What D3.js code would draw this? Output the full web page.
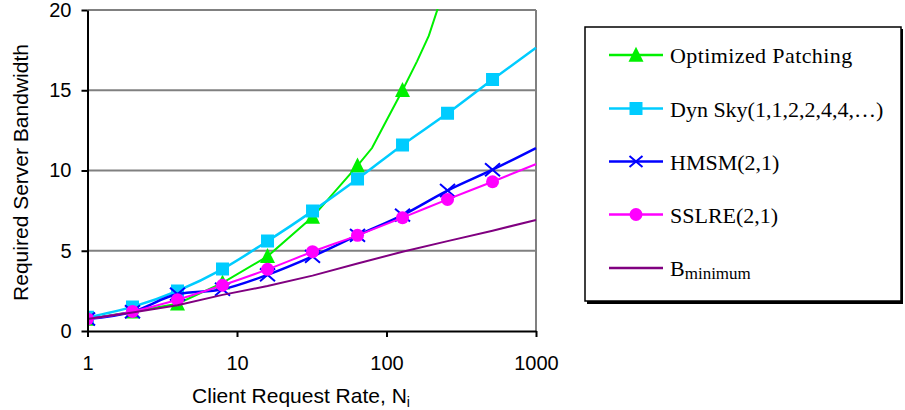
<!DOCTYPE html>
<meta charset="utf-8">
<head>
    <script src="https://d3js.org/d3.v7.min.js"></script>
    <style>
        body { margin: 0; background: #fff; }
        .tick text { font-family: "Liberation Sans", Arial, sans-serif; font-size: 20px; fill: #000; }
    </style>
</head>
<body>
<div id="my_dataviz"></div>
</body>

<script>

    // client request rates (x) and tick values
    var xTicks = [1, 10, 100, 1000];
    var yTicks = [0, 5, 10, 15, 20];

    // optimized patching is sampled more finely, markers only at powers of two
    var patchN = [1, 2, 4, 8, 16, 32, 64, 80, 96, 128, 160, 192, 224, 256];
    var patchVals = [0.75, 1.2, 1.7, 3.0, 4.65, 7.1, 10.3, 11.4, 12.8, 15.0, 16.8, 18.4, 20.3, 22.0];
    var patchMarkerN = [1, 2, 4, 8, 16, 32, 64, 128];

    // the other schemes
    var lineN = [1, 2, 4, 8, 16, 32, 64, 128, 256, 512, 1000];
    var markerN = [1, 2, 4, 8, 16, 32, 64, 128, 256, 512];
    var dynSky = [0.85, 1.5, 2.5, 3.86, 5.6, 7.47, 9.47, 11.59, 13.56, 15.67, 17.65];
    var hmsm = [0.75, 1.2, 2.3, 2.6, 3.5, 4.65, 5.96, 7.22, 8.75, 10.05, 11.4];
    var sslre = [0.75, 1.22, 1.95, 2.85, 3.84, 4.94, 5.96, 7.06, 8.2, 9.3, 10.4];
    var bmin = [0.75, 1.15, 1.6, 2.25, 2.8, 3.45, 4.2, 4.94, 5.6, 6.25, 6.92];

    var seriesNames = ["Optimized Patching", "Dyn Sky(1,1,2,2,4,4,\u2026)", "HMSM(2,1)", "SSLRE(2,1)", "Bminimum"];

    var series = [
        {name: seriesNames[0], xs: patchN, ys: patchVals, marks: patchMarkerN, color: "#00f000", shape: "triangle", width: 2, curve: d3.curveLinear},
        {name: seriesNames[1], xs: lineN, ys: dynSky, marks: markerN, color: "#00ccff", shape: "square", width: 2.5, curve: d3.curveMonotoneX},
        {name: seriesNames[2], xs: lineN, ys: hmsm, marks: markerN, color: "#0000ff", shape: "cross", width: 2.5, curve: d3.curveMonotoneX},
        {name: seriesNames[3], xs: lineN, ys: sslre, marks: markerN, color: "#ff00ff", shape: "circle", width: 2, curve: d3.curveMonotoneX},
        {name: seriesNames[4], xs: lineN, ys: bmin, marks: [], color: "#800080", shape: "none", width: 2, curve: d3.curveLinear}
    ];

    var W = 905, H = 410;
    var plotL = 87.5, plotR = 536, plotT = 10, plotB = 331;

    var svg = d3.select("#my_dataviz")
        .append("svg")
        .attr("width", W)
        .attr("height", H);

    var x = d3.scaleLog().domain([1, 1000]).range([plotL, plotR]);
    var y = d3.scaleLinear().domain([0, 20]).range([plotB, plotT]);

    // gridlines + plot border (gray)
    svg.append("g")
        .selectAll("line")
        .data(yTicks.slice(1))
        .enter().append("line")
        .attr("x1", plotL).attr("x2", plotR)
        .attr("y1", function(d) { return y(d); })
        .attr("y2", function(d) { return y(d); })
        .attr("stroke", "#808080")
        .attr("stroke-width", 2);
    svg.append("line")
        .attr("x1", plotR).attr("x2", plotR)
        .attr("y1", plotT).attr("y2", plotB)
        .attr("stroke", "#808080")
        .attr("stroke-width", 2);

    svg.append("clipPath").attr("id", "plotclip")
        .append("rect")
        .attr("x", plotL).attr("y", plotT - 1)
        .attr("width", plotR - plotL + 2).attr("height", plotB - plotT + 2);

    function markerPath(shape, s) {
        if (shape == "triangle") return "M0," + (-s * 0.55) + "L" + (s * 0.5) + "," + (s * 0.45) + "L" + (-s * 0.5) + "," + (s * 0.45) + "Z";
        if (shape == "square") return "M" + (-s / 2) + "," + (-s / 2) + "h" + s + "v" + s + "h" + (-s) + "Z";
        if (shape == "cross") return "M" + (-s / 2) + "," + (-s * 0.43) + "L" + (s / 2) + "," + (s * 0.43) + "M" + (s / 2) + "," + (-s * 0.43) + "L" + (-s / 2) + "," + (s * 0.43);
        return "";
    }

    function drawMarker(g, d, cx, cy, size) {
        if (d.shape == "circle") {
            g.append("circle").attr("cx", cx).attr("cy", cy).attr("r", 6.5).attr("fill", d.color);
        } else if (d.shape == "cross") {
            g.append("path").attr("transform", "translate(" + cx + "," + cy + ")")
                .attr("d", markerPath("cross", size || 15)).attr("stroke", d.color).attr("stroke-width", 2).attr("fill", "none");
        } else if (d.shape == "triangle") {
            g.append("path").attr("transform", "translate(" + cx + "," + cy + ")")
                .attr("d", markerPath("triangle", 15)).attr("fill", d.color);
        } else if (d.shape == "square") {
            g.append("path").attr("transform", "translate(" + cx + "," + cy + ")")
                .attr("d", markerPath("square", 13)).attr("fill", d.color);
        }
    }

    var plot = svg.append("g").attr("clip-path", "url(#plotclip)");

    // lines then markers, series by series
    series.forEach(function(s) {
        var pts = s.xs.map(function(n, i) { return [n, s.ys[i]]; });
        var line = d3.line()
            .x(function(p) { return x(p[0]); })
            .y(function(p) { return y(p[1]); })
            .curve(s.curve);
        plot.append("path")
            .attr("d", line(pts))
            .attr("fill", "none")
            .attr("stroke", s.color)
            .attr("stroke-width", s.width);
        var mg = plot.append("g");
        s.marks.forEach(function(n) {
            var v = s.ys[s.xs.indexOf(n)];
            drawMarker(mg, s, x(n), y(v));
        });
    });

    // Y axis
    svg.append("g")
        .attr("transform", "translate(" + plotL + ",0)")
        .call(d3.axisLeft(y).tickValues(yTicks).tickSize(6).tickSizeOuter(0).tickPadding(10))
        .call(function(g) {
            g.select(".domain").attr("stroke", "#000").attr("stroke-width", 2);
            g.selectAll(".tick line").attr("stroke", "#000").attr("stroke-width", 2);
        });

    // X axis
    svg.append("g")
        .attr("transform", "translate(0," + plotB + ")")
        .call(d3.axisBottom(x).tickValues(xTicks).tickFormat(d3.format("d")).tickSize(6).tickSizeOuter(0).tickPadding(19))
        .call(function(g) {
            g.select(".domain").attr("stroke", "#000").attr("stroke-width", 2);
            g.selectAll(".tick line").attr("stroke", "#000").attr("stroke-width", 2);
        });

    // axis titles
    svg.append("text")
        .attr("transform", "translate(28," + ((plotT + plotB) / 2 + 2) + ") rotate(-90)")
        .attr("text-anchor", "middle")
        .style("font-family", "'Liberation Sans', Arial, sans-serif")
        .style("font-size", "21px")
        .text("Required Server Bandwidth");

    var xt = svg.append("text")
        .attr("x", 301)
        .attr("y", 403)
        .attr("text-anchor", "middle")
        .style("font-family", "'Liberation Sans', Arial, sans-serif")
        .style("font-size", "21px");
    xt.append("tspan").text("Client Request Rate, N");
    xt.append("tspan").attr("dy", 4).style("font-size", "14px").text("i");

    // legend box with shadow
    var legend = svg.append("g");
    legend.append("rect")
        .attr("x", 587).attr("y", 29).attr("width", 316).attr("height", 275)
        .attr("fill", "#000");
    legend.append("rect")
        .attr("x", 585).attr("y", 27).attr("width", 316).attr("height", 274)
        .attr("fill", "#fff").attr("stroke", "#000").attr("stroke-width", 1.5);

    var rowY = [55, 108.5, 161.5, 214.5, 268];
    series.forEach(function(s, i) {
        var ly = rowY[i];
        legend.append("line")
            .attr("x1", 609).attr("x2", 663)
            .attr("y1", ly).attr("y2", ly)
            .attr("stroke", s.color).attr("stroke-width", 2.5);
        drawMarker(legend, s, 636, ly, 13);
        var t = legend.append("text")
            .attr("x", 670)
            .attr("y", ly + 8)
            .style("font-family", "'Liberation Serif', 'Times New Roman', serif")
            .style("font-size", "22px");
        if (s.name == "Bminimum") {
            t.append("tspan").text("B");
            t.append("tspan").attr("dy", 3).style("font-size", "17px").text("minimum");
        } else {
            t.text(s.name);
        }
        if (i == 0) t.style("letter-spacing", "0.4px");
    });

</script>
